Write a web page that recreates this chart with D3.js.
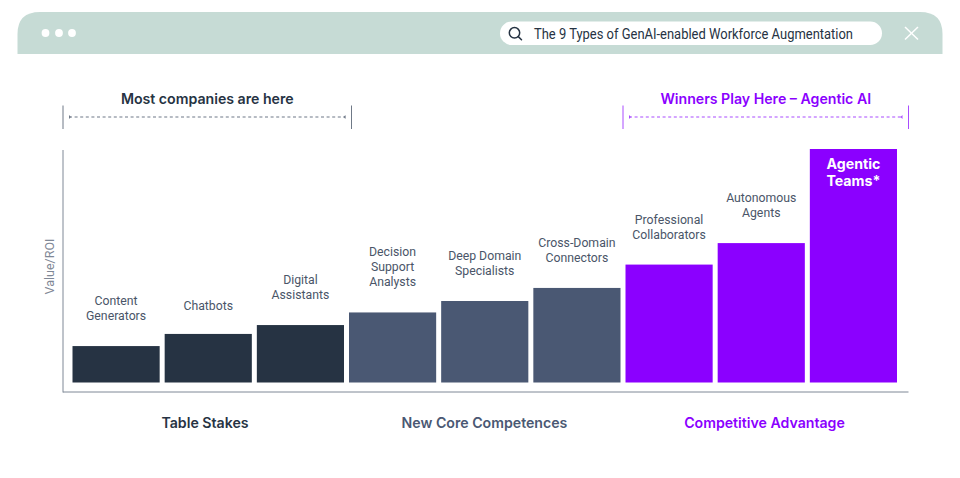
<!DOCTYPE html>
<html><head><meta charset="utf-8">
<script src="https://cdn.jsdelivr.net/npm/d3@7"></script>
<style>html,body{margin:0;padding:0;background:#fff}svg{display:block}text{font-family:Roboto,sans-serif}.b{font-family:Inter,sans-serif;font-weight:600}</style>
</head><body><div id="c"></div>
<script>
const categories=["Content Generators","Chatbots","Digital Assistants","Decision Support Analysts","Deep Domain Specialists","Cross-Domain Connectors","Professional Collaborators","Autonomous Agents","Agentic Teams*"];
const labelLines=[["Content","Generators"],["Chatbots"],["Digital","Assistants"],["Decision","Support","Analysts"],["Deep Domain","Specialists"],["Cross-Domain","Connectors"],["Professional","Collaborators"],["Autonomous","Agents"],["Agentic","Teams*"]];
const values=[15.6,20.8,24.6,30,34.9,40.5,50.5,59.7,100];
const tiers=[0,0,0,1,1,1,2,2,2];
const tierNames=["Table Stakes","New Core Competences","Competitive Advantage"];
const tierColors=["#263343","#4a5873","#8b00ff"];
const title="The 9 Types of GenAI-enabled Workforce Augmentation";
const axisLabel="Value/ROI";
const spans=[{t:"Most companies are here",c:"#263343",l:"#6f7987"},{t:"Winners Play Here – Agentic AI",c:"#8b00ff",l:"#a94dff"}];

const svg=d3.select("#c").append("svg").attr("width",960).attr("height",478);
const x=d3.scaleBand().domain(categories).range([72.5,897]).paddingInner(0.0543);
const y=d3.scaleLinear().domain([0,100]).range([382.5,149]);

// squeeze a text horizontally to the condensed proportions of the reference face
function squeeze(sel,f){sel.each(function(){const n=this.getComputedTextLength();d3.select(this).attr("textLength",n*f).attr("lengthAdjust","spacingAndGlyphs");});return sel;}

// window header
const hdr=d3.path();hdr.moveTo(17.5,54);hdr.lineTo(17.5,34);hdr.quadraticCurveTo(17.5,12,40,12);hdr.lineTo(920,12);hdr.quadraticCurveTo(942.5,12,942.5,34);hdr.lineTo(942.5,54);hdr.closePath();
svg.append("path").attr("d",hdr.toString()).attr("fill","#c6dbd5");
svg.selectAll("circle.d").data([45.5,59,72]).join("circle").attr("cx",d=>d).attr("cy",33).attr("r",3.9).attr("fill","#fff");
svg.append("rect").attr("x",500).attr("y",21.5).attr("width",382).attr("height",23.5).attr("rx",11.7).attr("fill","#fff");
svg.append("circle").attr("cx",514.5).attr("cy",32.8).attr("r",5.2).attr("fill","none").attr("stroke","#263343").attr("stroke-width",1.5);
svg.append("line").attr("x1",518.3).attr("y1",36.6).attr("x2",521.5).attr("y2",39.8).attr("stroke","#263343").attr("stroke-width",1.5).attr("stroke-linecap","round");
svg.append("text").attr("x",534).attr("y",38.8).attr("font-size",15).attr("fill","#263343").attr("textLength",319).attr("lengthAdjust","spacingAndGlyphs").text(title);
[[905,27,918,39.5],[918,27,905,39.5]].forEach(p=>svg.append("line").attr("x1",p[0]).attr("y1",p[1]).attr("x2",p[2]).attr("y2",p[3]).attr("stroke","#fff").attr("stroke-width",1.5));

// spans
const spanX=[[63,351.5],[623,908.5]];
spans.forEach((s,i)=>{
  const [a,b]=spanX[i];
  const g=svg.append("g");
  [a,b].forEach(v=>g.append("line").attr("x1",v).attr("x2",v).attr("y1",105.5).attr("y2",129).attr("stroke",s.l).attr("stroke-width",1));
  g.append("line").attr("x1",a+6).attr("x2",b-6).attr("y1",117).attr("y2",117).attr("stroke",s.l).attr("stroke-width",1.1).attr("stroke-dasharray","3 2.6");
  [[a+6,a+8],[b-6,b-8]].forEach(p=>g.append("path").attr("d",`M${p[0]},115 L${p[1]},117 L${p[0]},119Z`).attr("fill",s.l));
  g.append("text").attr("class","b").attr("x",(a+b)/2).attr("y",103.7).attr("text-anchor","middle").attr("font-size",14.15).attr("fill",s.c).text(s.t);
});

// axes
const ax=d3.axisLeft(y).tickValues([]).tickSize(0);
const gy=svg.append("g").attr("transform","translate(63,0)").call(ax);
gy.select(".domain").attr("d","M0,150V392.5").attr("stroke","#7f8896").attr("stroke-width",1).attr("fill","none");
const gx=svg.append("g").attr("transform","translate(0,392)").call(d3.axisBottom(x).tickValues([]).tickSize(0));
gx.select(".domain").attr("d","M63,0H908.5").attr("stroke","#7f8896").attr("stroke-width",1).attr("fill","none");
squeeze(svg.append("text").attr("transform","translate(54,266.5) rotate(-90)").attr("text-anchor","middle").attr("font-size",13).attr("fill","#7f8896").text(axisLabel),0.96);

// bars
svg.selectAll("rect.bar").data(categories).join("rect").attr("class","bar")
  .attr("x",d=>x(d)).attr("width",x.bandwidth())
  .attr("y",(d,i)=>y(values[i])).attr("height",(d,i)=>y(0)-y(values[i]))
  .attr("fill",(d,i)=>tierColors[tiers[i]]);

// labels
categories.forEach((c,i)=>{
  const lines=labelLines[i],cx=x(c)+x.bandwidth()/2;
  if(i===8){
    lines.forEach((l,k)=>svg.append("text").attr("class","b").style("font-weight",700).attr("x",cx).attr("y",168.5+k*17.5).attr("text-anchor","middle").attr("font-size",14.2).attr("fill","#fff").text(l));
  }else{
    const last=y(values[i])-(i===1?29:lines.length===3?31.5:30.5)+4.7;
    lines.forEach((l,k)=>squeeze(svg.append("text").attr("x",cx).attr("y",last-(lines.length-1-k)*15).attr("text-anchor","middle").attr("font-size",13.2).attr("fill","#4a5568").text(l),0.93));
  }
});

// tiers
tierNames.forEach((t,k)=>{
  svg.append("text").attr("class","b").attr("x",[205,484.5,764.5][k]).attr("y",428).attr("text-anchor","middle").attr("font-size",14.15).attr("fill",tierColors[k]).text(t);
});
</script></body></html>
